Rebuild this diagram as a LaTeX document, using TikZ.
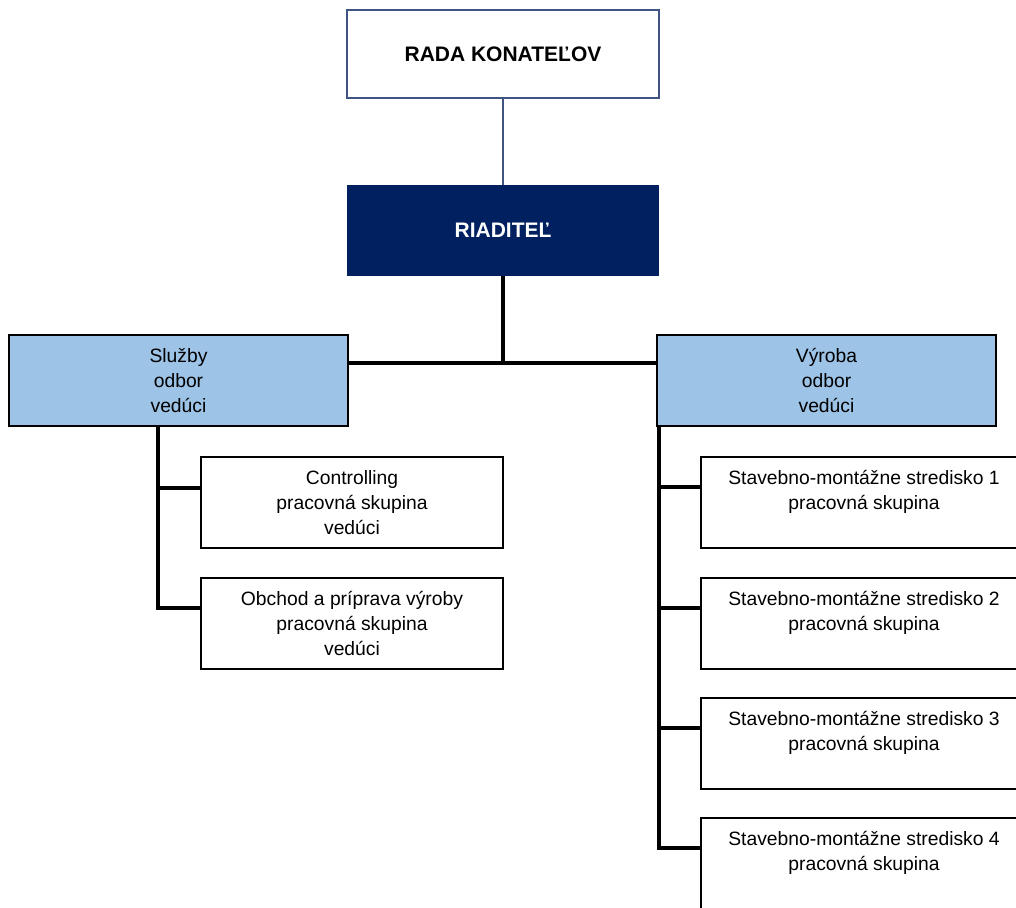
\documentclass[tikz,border=0pt]{standalone}
\usepackage{fontspec}
\setmainfont{Liberation Sans}
\definecolor{navy}{HTML}{002060}
\definecolor{slate}{HTML}{3D5580}
\definecolor{lblue}{HTML}{9DC3E6}
\begin{document}
\begin{tikzpicture}[x=1pt,y=-1pt,
  base/.style={inner sep=0pt, outer sep=0pt, anchor=north west, align=center, font=\fontsize{19.3}{25}\selectfont},
  box/.style={base, draw=black, line width=2.5pt, fill=white},
  dept/.style={box, fill=lblue, minimum width=339pt, minimum height=91pt},
  grp/.style={box, minimum width=302pt, minimum height=91pt},
  rgrp/.style={box, minimum width=326pt, minimum height=91pt},
  conn/.style={draw=black, line width=4pt},
  thin/.style={draw=slate, line width=2pt}]
\clip (0,0) rectangle (1016,907);
\fill[white] (0,0) rectangle (1016,907);

\node[base, draw=slate, line width=2pt, fill=white, minimum width=312pt, minimum height=88pt,
  font=\bfseries\fontsize{21}{25}\selectfont] (rada) at (347,10) {RADA KONATEĽOV};
\node[base, fill=navy, text=white, minimum width=312pt, minimum height=91pt,
  font=\bfseries\fontsize{21}{25}\selectfont] (riad) at (347,185) {RIADITEĽ};

\node[dept] (sluzby) at (9,335) {Služby\\odbor\\vedúci};
\node[dept] (vyroba) at (657,335) {Výroba\\odbor\\vedúci};

\node[grp] (ctrl) at (201,457) {Controlling\\pracovná skupina\\vedúci};
\node[grp] (obch) at (201,578) {Obchod a príprava výroby\\pracovná skupina\\vedúci};

\node[rgrp] (s1) at (701,457) {Stavebno-montážne stredisko 1\\pracovná skupina\\~};
\node[rgrp] (s2) at (701,578) {Stavebno-montážne stredisko 2\\pracovná skupina\\~};
\node[rgrp] (s3) at (701,698) {Stavebno-montážne stredisko 3\\pracovná skupina\\~};
\node[rgrp] (s4) at (701,818) {Stavebno-montážne stredisko 4\\pracovná skupina\\~};

\coordinate (hub) at (503,363);
\coordinate (lb1) at (158,488);
\coordinate (lb2) at (158,608);
\coordinate (rb1) at (659,487);
\coordinate (rb2) at (659,608);
\coordinate (rb3) at (659,728);
\coordinate (rb4) at (659,848);

\draw[thin] (rada.south) -- (riad.north);
\draw[conn] (riad.south) -- (riad.south |- hub);
\draw[conn] (sluzby.east |- hub) -- (vyroba.west |- hub);

\draw[conn] (sluzby.south -| lb1) -- (lb2) -- (obch.west |- lb2);
\draw[conn] (lb1) -- (ctrl.west |- lb1);

\draw[conn] (vyroba.south -| rb1) -- (rb4) -- (s4.west |- rb4);
\draw[conn] (rb1) -- (s1.west |- rb1);
\draw[conn] (rb2) -- (s2.west |- rb2);
\draw[conn] (rb3) -- (s3.west |- rb3);
\end{tikzpicture}
\end{document}
